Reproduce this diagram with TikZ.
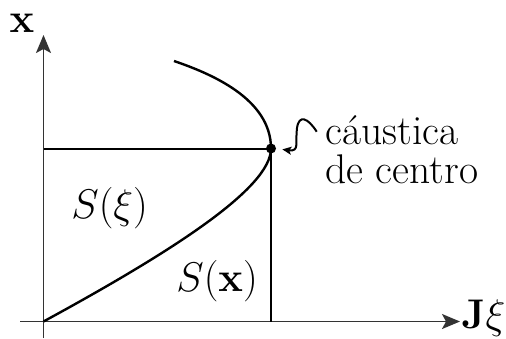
\documentclass[tikz,border=0pt]{standalone}
\usepackage{amsmath}
\usepackage{tikz}
\usetikzlibrary{positioning,arrows.meta,calc}

\begin{document}
\begin{tikzpicture}[
    x=0.5pt, y=0.5pt,
    axis/.style={draw=black!80, line width=0.8pt,
                 -{Stealth[length=9pt, width=7.5pt, inset=2pt]}},
    edge/.style={draw=black, line width=1pt},
    caustic/.style={draw=black, line width=1.2pt},
    squig/.style={draw=black, line width=1pt, shorten >=3pt,
                  -{Stealth[length=4.5pt, width=4pt, inset=1pt]}},
    lbl/.style={inner sep=0pt, font=\fontsize{20.74}{19.5}\selectfont},
    dotnode/.style={circle, fill=black, inner sep=0pt, minimum size=5pt},
]
    \useasboundingbox (0,0) rectangle (506,338);

    \coordinate (orig) at (43.5,16.5);
    \coordinate (xlft) at (20,16.5);
    \coordinate (xtip) at (460,16.5);
    \coordinate (ybot) at (43.5,0);
    \coordinate (ytip) at (43.5,303);
    \node[dotnode] (dot) at (271,189.5) {};
    \coordinate (ylvl) at (43.5,189.5);
    \coordinate (xfoot) at (271,16.5);
    \coordinate (ctop) at (174,277);
    \coordinate (sq) at (316.7,206.3);

    \draw[axis] (xlft) -- (xtip);
    \draw[axis] (ybot) -- (ytip);
    \draw[edge] (ylvl) -- (dot.center) -- (xfoot);

    \draw[caustic] (orig) .. controls (173,87) and (271,150) .. (dot.center)
                          .. controls (271,240) and (209,265) .. (ctop);

    \draw[squig] (sq) .. controls (308,220) and (299,224) .. (297,210)
                      .. controls (295,196) and (300,186) .. (dot.east);

    \node[lbl] (xlab) at (22,315) {$\mathbf{x}$};
    \node[lbl, anchor=base west] (jlab) at (461,10) {$\mathbf{J}\xi$};
    \node[lbl, anchor=base west] (sxi) at (71,120) {$S(\xi)$};
    \node[lbl, anchor=base west] (sx) at (176,47) {$S(\mathbf{x})$};
    \node[lbl, anchor=base west, align=left] (cdc) at (325,155) {cáustica\\de centro};
\end{tikzpicture}
\end{document}
